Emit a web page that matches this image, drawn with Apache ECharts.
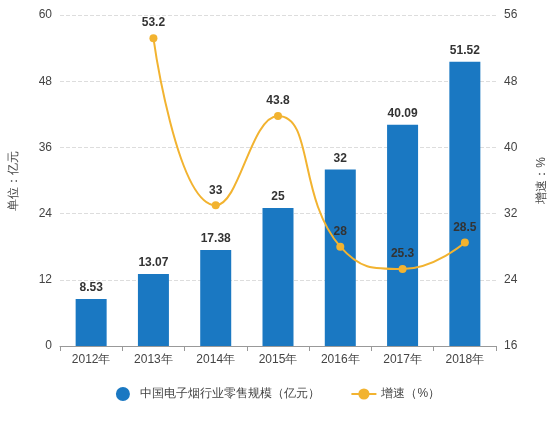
<!DOCTYPE html>
<html><head><meta charset="utf-8">
<script src="https://cdn.jsdelivr.net/npm/echarts@6/dist/echarts.min.js"></script>
<style>html,body{margin:0;padding:0;background:#fff}#c{width:556px;height:425px}</style>
</head><body><div id="c"></div>
<script>
"use strict";
var years = ['2012年','2013年','2014年','2015年','2016年','2017年','2018年'];
var scale = [8.53, 13.07, 17.38, 25, 32, 40.09, 51.52];
var growth = [null, 53.2, 33, 43.8, 28, 25.3, 28.5];

var chart = echarts.init(document.getElementById('c'));
var txt = {color:'#444', fontSize:12, fontFamily:'sans-serif'};
chart.setOption({
	animation:false,
	grid:{left:58, right:54, top:15, bottom:79},
	legend:{
		bottom:19, left:'center', itemGap:30,
		textStyle:txt,
		data:[{name:'中国电子烟行业零售规模（亿元）', icon:'circle'}, {name:'增速（%）'}]
	},
	xAxis:{
		type:'category', data:years,
		axisLine:{lineStyle:{color:'#999'}},
		axisTick:{show:true, lineStyle:{color:'#999'}},
		axisLabel:txt
	},
	yAxis:[{
		type:'value', min:0, max:60, interval:12,
		name:'单位：亿元', nameLocation:'middle', nameGap:40, nameTextStyle:txt,
		axisLine:{show:false}, axisTick:{show:false}, axisLabel:txt,
		splitLine:{lineStyle:{type:'dashed', color:'#ddd'}}
	},{
		type:'value', min:16, max:56, interval:8,
		name:'增速：%', nameLocation:'middle', nameGap:40, nameRotate:90, nameTextStyle:txt,
		axisLine:{show:false}, axisTick:{show:false}, axisLabel:txt,
		splitLine:{show:false}
	}],
	series:[{
		name:'中国电子烟行业零售规模（亿元）', type:'bar', data:scale, barWidth:31,
		itemStyle:{color:'#1a78c2'},
		label:{show:true, position:'top', color:'#333', fontSize:12, fontWeight:'bold'}
	},{
		name:'增速（%）', type:'line', yAxisIndex:1, data:growth, smooth:true,
		symbol:'circle', symbolSize:8,
		itemStyle:{color:'#f2b330'}, lineStyle:{color:'#f2b330', width:2},
		label:{show:true, position:'top', color:'#333', fontSize:12, fontWeight:'bold'}
	}]
});
</script></body></html>
